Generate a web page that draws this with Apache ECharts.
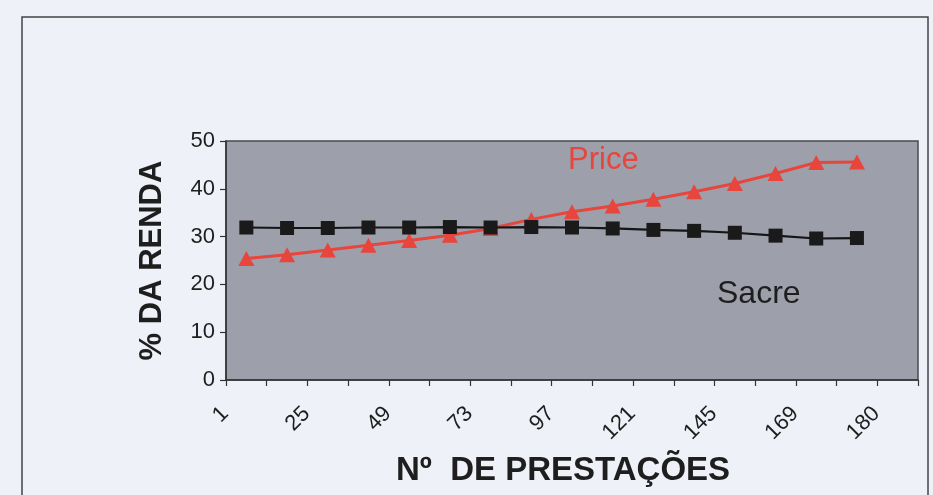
<!DOCTYPE html>
<html>
<head>
<meta charset="utf-8">
<script src="https://cdn.jsdelivr.net/npm/echarts@6/dist/echarts.min.js"></script>
<style>
  html, body { margin: 0; padding: 0; background: #eef1f7; }
  #chart { width: 933px; height: 495px; }
</style>
</head>
<body>
<div id="chart"></div>
<script>
// Installment number axis: one slot per row, labels on every other slot
const tickLabels = ['1', '', '25', '', '49', '', '73', '', '97', '', '121', '', '145', '', '169', '', '180'];

// Share of income taken by the installment (%)
const sacreValues = [31.9, 31.8, 31.8, 31.9, 31.9, 32.0, 31.9, 32.0, 31.9, 31.7, 31.4, 31.2, 30.8, 30.2, 29.6, 29.7];
const priceValues = [25.4, 26.2, 27.2, 28.2, 29.2, 30.3, 31.7, 33.6, 35.2, 36.4, 37.8, 39.4, 41.1, 43.2, 45.5, 45.6];

const yTicks = { min: 0, max: 50, interval: 10 };

const chart = echarts.init(document.getElementById('chart'), null, { renderer: 'canvas' });

const txt = '#1e1e1e';
const red = '#e8453c';
const font = 'Liberation Sans, Arial, sans-serif';

chart.setOption({
  backgroundColor: '#eef1f7',
  animation: false,
  textStyle: { fontFamily: font },
  grid: {
    left: 226, right: 15, top: 141, bottom: 115,
    show: true,
    backgroundColor: '#9d9faa',
    borderColor: '#4a4a4f',
    borderWidth: 1.5
  },
  xAxis: {
    type: 'category',
    data: tickLabels,
    boundaryGap: true,
    name: 'Nº  DE PRESTAÇÕES',
    nameLocation: 'middle',
    nameGap: 74,
    nameTextStyle: { fontSize: 33, fontWeight: 'bold', color: txt, padding: [0, 18, 0, 0] },
    axisLine: { lineStyle: { color: '#333', width: 1.5 } },
    axisTick: { show: true, interval: 0, length: 6, lineStyle: { color: '#333', width: 1.2 } },
    axisLabel: {
      interval: 0,
      rotate: 45,
      margin: 9,
      padding: [0, 30, 0, 0],
      fontSize: 22,
      color: txt
    },
    splitLine: { show: false }
  },
  yAxis: {
    type: 'value',
    min: yTicks.min,
    max: yTicks.max,
    interval: yTicks.interval,
    name: '% DA RENDA',
    nameLocation: 'middle',
    nameGap: 58,
    nameTextStyle: { fontSize: 31, fontWeight: 'bold', color: txt },
    axisLine: { show: true, lineStyle: { color: '#333', width: 1.5 } },
    axisTick: { show: true, length: 6, lineStyle: { color: '#333', width: 1.2 } },
    axisLabel: { fontSize: 22, color: txt, margin: 11 },
    splitLine: { show: false }
  },
  series: [
    {
      name: 'Sacre',
      type: 'line',
      data: sacreValues,
      symbol: 'rect',
      symbolSize: 14,
      lineStyle: { color: '#151515', width: 2.2 },
      itemStyle: { color: '#1a1a1a' },
      z: 3
    },
    {
      name: 'Price',
      type: 'line',
      data: priceValues,
      symbol: 'triangle',
      symbolSize: [16, 15],
      lineStyle: { color: red, width: 3 },
      itemStyle: { color: red },
      z: 2
    }
  ],
  graphic: [
    {
      type: 'rect',
      shape: { x: 22, y: 17, width: 906, height: 500 },
      style: { fill: 'none', stroke: '#444', lineWidth: 1.5 },
      silent: true
    },
    {
      type: 'text',
      left: 568, top: 145,
      style: { text: 'Price', fontSize: 31, fill: red, fontFamily: font },
      z: 10
    },
    {
      type: 'text',
      left: 717, top: 278,
      style: { text: 'Sacre', fontSize: 32, fill: txt, fontFamily: font },
      z: 10
    }
  ]
});
</script>
</body>
</html>
